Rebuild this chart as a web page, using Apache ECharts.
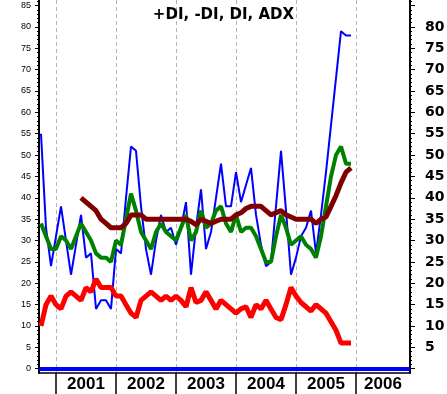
<!DOCTYPE html>
<html><head><meta charset="utf-8">
<script src="https://cdn.jsdelivr.net/npm/echarts@6/dist/echarts.min.js"></script>
<style>html,body{margin:0;padding:0;background:#fff}#c{width:447px;height:394px}</style>
</head><body><div id="c"></div>
<script>
const months = [
 '2000-10','2000-11','2000-12',
 '2001-01','2001-02','2001-03','2001-04','2001-05','2001-06','2001-07','2001-08','2001-09','2001-10','2001-11','2001-12',
 '2002-01','2002-02','2002-03','2002-04','2002-05','2002-06','2002-07','2002-08','2002-09','2002-10','2002-11','2002-12',
 '2003-01','2003-02','2003-03','2003-04','2003-05','2003-06','2003-07','2003-08','2003-09','2003-10','2003-11','2003-12',
 '2004-01','2004-02','2004-03','2004-04','2004-05','2004-06','2004-07','2004-08','2004-09','2004-10','2004-11','2004-12',
 '2005-01','2005-02','2005-03','2005-04','2005-05','2005-06','2005-07','2005-08','2005-09','2005-10','2005-11','2005-12'
];
const diBlue = [
 55,33,24,
 31,38,30,22,29,36,26,27,14,16,16,14,
 28,27,40,52,51,38,28,22,30,36,32,33,
 29,33,39,22,33,42,28,32,40,48,38,38,
 46,39,43,47,36,29,24,25,38,51,37,22,
 26,31,33,37,27,36,46,57,68,79,78,78
];
const diGreen = [
 34,31,28,
 28,31,30,28,31,34,32,30,27,26,26,25,
 30,29,35,41,37,32,30,28,32,34,32,31,
 30,33,36,30,32,37,33,34,37,38,34,32,
 36,32,33,33,31,28,25,25,31,36,33,29,
 30,31,29,28,26,31,38,45,50,52,48,48
];
const adxMaroon = [
 null,null,null,
 null,null,null,null,null,40,39,38,37,35,34,33,
 33,33,34,36,36,36,35,35,35,35,35,35,
 35,35,35,34.5,33.7,35,34.5,34,34.5,35,35,35,
 36,36.5,37.5,38,38,38,37,36,36.5,37,36,35.5,
 35,35,35,35,34,35,35.5,38,40.5,43.5,46,47
];
const diRed = [
 10,15,17,
 15,14,17,18,17,16,19,18,21,19,19,19,
 17,17,15,13,12,16,17,18,17,16,17,16,
 17,16,14.5,19,15.5,16,18,16,14,16,15,14,
 13,14,14.5,12,15,14,16,14,12,11.5,15,19,
 17,15.5,14.5,13.5,15,14,13,11,9,6,6,6
];
const yearLabels = ['2001','2002','2003','2004','2005','2006'];
const leftLabels = [0,5,10,15,20,25,30,35,40,45,50,55,60,65,70,75,80,85];
const rightLabels = [5,10,15,20,25,30,35,40,45,50,55,60,65,70,75,80];
const majorTicks = [0,5,10,15,20,25,30,35,40,45,50,55,60,65,70,75,80,85];
const minorTicks = [];
for (let v = 0; v <= 86; v++) minorTicks.push(v);

const X_MIN = 2000.7167, X_MAX = 2006.9;
const toT = m => { const [y, mo] = m.split('-').map(Number); return y + (mo - 1) / 12; };
const pairs = arr => months.map((m, i) => [toT(m), arr[i]]);
const yearStarts = yearLabels.map(Number);
const yearLabelPos = yearStarts.map(y => Math.min(y + 0.5, (y + X_MAX) / 2));

const FONT = 'Liberation Sans';
const yCommon = { type: 'value', min: -1, max: 86.3, splitLine: { show: false } };

const chart = echarts.init(document.getElementById('c'), null, { renderer: 'canvas' });
chart.setOption({
  animation: false,
  backgroundColor: '#fff',
  title: {
    text: '+DI, -DI, DI, ADX', left: 'center', top: 3,
    textStyle: { fontFamily: 'DejaVu Sans', fontWeight: 'bold', fontSize: 15, color: '#000' }
  },
  grid: { left: 39, right: 37, top: 0, bottom: 21, containLabel: false, outerBoundsMode: 'none' },
  xAxis: {
    type: 'value', min: X_MIN, max: X_MAX, position: 'bottom',
    axisLine: { show: true, onZero: false, lineStyle: { color: '#000', width: 1.5 } },
    axisTick: { show: true, customValues: yearStarts, length: 21, inside: false, lineStyle: { color: '#000', width: 1.5 } },
    axisLabel: {
      customValues: yearLabelPos, formatter: v => String(Math.floor(v + 1e-6)),
      fontSize: 17, fontWeight: 'bold', fontFamily: FONT, color: '#000', margin: 3
    },
    splitLine: { show: true, lineStyle: { color: '#b4b4b4', type: [4, 3], width: 1 } }
  },
  yAxis: [
    Object.assign({}, yCommon, {
      position: 'left',
      axisLine: { show: true, onZero: false, lineStyle: { color: '#000', width: 2 } },
      axisTick: { show: true, customValues: majorTicks, length: 4, lineStyle: { color: '#000', width: 1 } },
      axisLabel: { customValues: leftLabels, fontSize: 9, fontFamily: FONT, color: '#000', margin: 8 }
    }),
    Object.assign({}, yCommon, {
      position: 'left',
      axisLine: { show: false, onZero: false },
      axisTick: { show: true, customValues: minorTicks, length: 2, lineStyle: { color: '#000', width: 1 } },
      axisLabel: { show: false }
    }),
    Object.assign({}, yCommon, {
      position: 'right',
      axisLine: { show: true, onZero: false, lineStyle: { color: '#000', width: 2 } },
      axisTick: { show: true, customValues: majorTicks, length: 5, lineStyle: { color: '#000', width: 1 } },
      axisLabel: { customValues: rightLabels, fontSize: 14, fontWeight: 'bold', fontFamily: 'DejaVu Sans', color: '#000', margin: 15 }
    }),
    Object.assign({}, yCommon, {
      position: 'right',
      axisLine: { show: false, onZero: false },
      axisTick: { show: true, customValues: minorTicks, length: 2, lineStyle: { color: '#000', width: 1 } },
      axisLabel: { show: false }
    })
  ],
  series: [
    {
      name: 'DI', type: 'line', data: pairs(diBlue), symbol: 'none', showSymbol: false,
      lineStyle: { color: '#0000ff', width: 2 }, itemStyle: { color: '#0000ff' },
      markLine: {
        silent: true, symbol: ['none', 'none'], label: { show: false },
        lineStyle: { color: '#0000ff', width: 4, type: 'solid' },
        data: [{ yAxis: 0 }]
      }
    },
    {
      name: 'DI smooth', type: 'line', data: pairs(diGreen), symbol: 'none', showSymbol: false,
      lineStyle: { color: '#008000', width: 4 }, itemStyle: { color: '#008000' }
    },
    {
      name: '-DI', type: 'line', data: pairs(diRed), symbol: 'none', showSymbol: false,
      lineStyle: { color: '#ff0000', width: 5 }, itemStyle: { color: '#ff0000' }
    },
    {
      name: 'ADX', type: 'line', data: pairs(adxMaroon), symbol: 'none', showSymbol: false,
      lineStyle: { color: '#800000', width: 5 }, itemStyle: { color: '#800000' }
    }
  ]
});
</script>
</body></html>
